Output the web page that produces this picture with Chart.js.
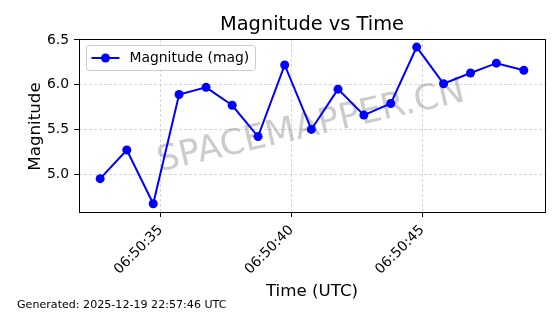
<!DOCTYPE html>
<html>
<head>
<meta charset="utf-8">
<script src="https://cdn.jsdelivr.net/npm/chart.js@4.4.0/dist/chart.umd.min.js"></script>
<style>
  html, body { margin: 0; padding: 0; background: #fff; }
  #chart { display: block; }
</style>
</head>
<body>
<canvas id="chart" width="560" height="314"></canvas>
<script>
// seconds after 06:50:00 UTC
var seconds = [32.68, 33.70, 34.71, 35.70, 36.73, 37.73, 38.72, 39.74, 40.76,
               41.78, 42.77, 43.80, 44.79, 45.82, 46.85, 47.84, 48.89];
var magnitudes = [4.95, 5.27, 4.67, 5.89, 5.97, 5.77, 5.42, 6.22, 5.50,
                  5.95, 5.66, 5.79, 6.42, 6.01, 6.13, 6.24, 6.16];
var xTicks = [35, 40, 45];
var xTickLabels = ["06:50:35", "06:50:40", "06:50:45"];
var yTicks = [5.0, 5.5, 6.0, 6.5];

var FONT = "'DejaVu Sans', sans-serif";

var decorations = {
  id: "decorations",
  beforeDatasetsDraw: function (chart) {
    var ctx = chart.ctx, a = chart.chartArea;
    // watermark
    ctx.save();
    ctx.translate((a.left + a.right) / 2 - 1, (a.top + a.bottom) / 2 + 1.5);
    ctx.rotate(-13 * Math.PI / 180);
    ctx.font = "35px " + FONT;
    ctx.fillStyle = "rgba(128,128,128,0.4)";
    ctx.textAlign = "center";
    ctx.textBaseline = "middle";
    ctx.fillText("SPACEMAPPER.CN", 0, 0);
    ctx.restore();
  },
  afterDraw: function (chart) {
    var ctx = chart.ctx, a = chart.chartArea;
    ctx.save();
    // frame
    ctx.strokeStyle = "#000";
    ctx.lineWidth = 1;
    ctx.strokeRect(Math.round(a.left) + 0.5, Math.round(a.top) + 0.5,
                   Math.round(a.right - a.left), Math.round(a.bottom - a.top));

    // title
    ctx.fillStyle = "#000";
    ctx.textAlign = "center";
    ctx.textBaseline = "alphabetic";
    ctx.font = "19.4px " + FONT;
    ctx.fillText("Magnitude vs Time", (a.left + a.right) / 2, 30);

    // x axis title
    ctx.font = "16.7px " + FONT;
    ctx.fillText("Time (UTC)", (a.left + a.right) / 2, 295.5);

    // y axis title
    ctx.save();
    ctx.translate(39.5, (a.top + a.bottom) / 2 + 1);
    ctx.rotate(-Math.PI / 2);
    ctx.fillText("Magnitude", 0, 0);
    ctx.restore();

    // footer
    ctx.textAlign = "left";
    ctx.font = "11.1px " + FONT;
    ctx.fillText("Generated: 2025-12-19 22:57:46 UTC", 17, 308);

    // legend
    var ds = chart.data.datasets[0];
    var lx = a.left + 7.5, ly = a.top + 6.5, lw = 169, lh = 25;
    ctx.beginPath();
    ctx.roundRect(lx, ly, lw, lh, 3);
    ctx.fillStyle = "rgba(255,255,255,0.8)";
    ctx.fill();
    ctx.strokeStyle = "#cccccc";
    ctx.stroke();
    var cy = ly + lh / 2;
    ctx.strokeStyle = ds.borderColor;
    ctx.lineWidth = 2;
    ctx.beginPath();
    ctx.moveTo(lx + 5, cy);
    ctx.lineTo(lx + 33, cy);
    ctx.stroke();
    ctx.fillStyle = ds.pointBackgroundColor;
    ctx.beginPath();
    ctx.arc(lx + 19, cy, 4.5, 0, Math.PI * 2);
    ctx.fill();
    ctx.fillStyle = "#000";
    ctx.font = "13.9px " + FONT;
    ctx.textBaseline = "middle";
    ctx.fillText(ds.label, lx + 43, cy);
    ctx.restore();
  }
};

var ctx = document.getElementById("chart").getContext("2d");
var chart = new Chart(ctx, {
  type: "line",
  data: {
    datasets: [
      {
        label: "Magnitude (mag)",
        data: seconds.map(function (s, i) { return { x: s, y: magnitudes[i] }; }),
        borderColor: "#0000ff",
        backgroundColor: "#0000ff",
        pointBackgroundColor: "#0000ff",
        pointBorderWidth: 0,
        pointRadius: 4.5,
        borderWidth: 2,
        tension: 0,
      },
    ],
  },
  options: {
    responsive: false,
    animation: false,
    devicePixelRatio: 1,
    layout: { padding: { top: 39, right: 15, left: 0, bottom: 0 } },
    plugins: {
      legend: { display: false },
      title: { display: false },
      tooltip: { enabled: false },
    },
    scales: {
      x: {
        type: "linear",
        min: 31.87,
        max: 49.70,
        afterBuildTicks: function (scale) {
          scale.ticks = xTicks.map(function (v) { return { value: v }; });
        },
        afterFit: function (scale) { scale.height = 102; },
        ticks: {
          minRotation: 45,
          maxRotation: 45,
          padding: 5,
          color: "#000",
          font: { family: FONT, size: 13.9 },
          callback: function (v) { return xTickLabels[xTicks.indexOf(v)]; },
        },
        grid: {
          color: "#cccccc",
          lineWidth: 0.8,
          tickColor: "#000",
          tickLength: 5,
          tickWidth: 1,
          tickBorderDash: [],
        },
        border: { display: false, dash: [3, 2] },
      },
      y: {
        min: 4.578,
        max: 6.51,
        afterBuildTicks: function (scale) {
          scale.ticks = yTicks.map(function (v) { return { value: v }; });
        },
        afterFit: function (scale) { scale.width = 79; },
        ticks: {
          padding: 5,
          color: "#000",
          font: { family: FONT, size: 13.9 },
          callback: function (v) { return v.toFixed(1); },
        },
        grid: {
          color: "#cccccc",
          lineWidth: 0.8,
          tickColor: "#000",
          tickLength: 5,
          tickWidth: 1,
          tickBorderDash: [],
        },
        border: { display: false, dash: [3, 2] },
      },
    },
  },
  plugins: [decorations],
});
</script>
</body>
</html>
